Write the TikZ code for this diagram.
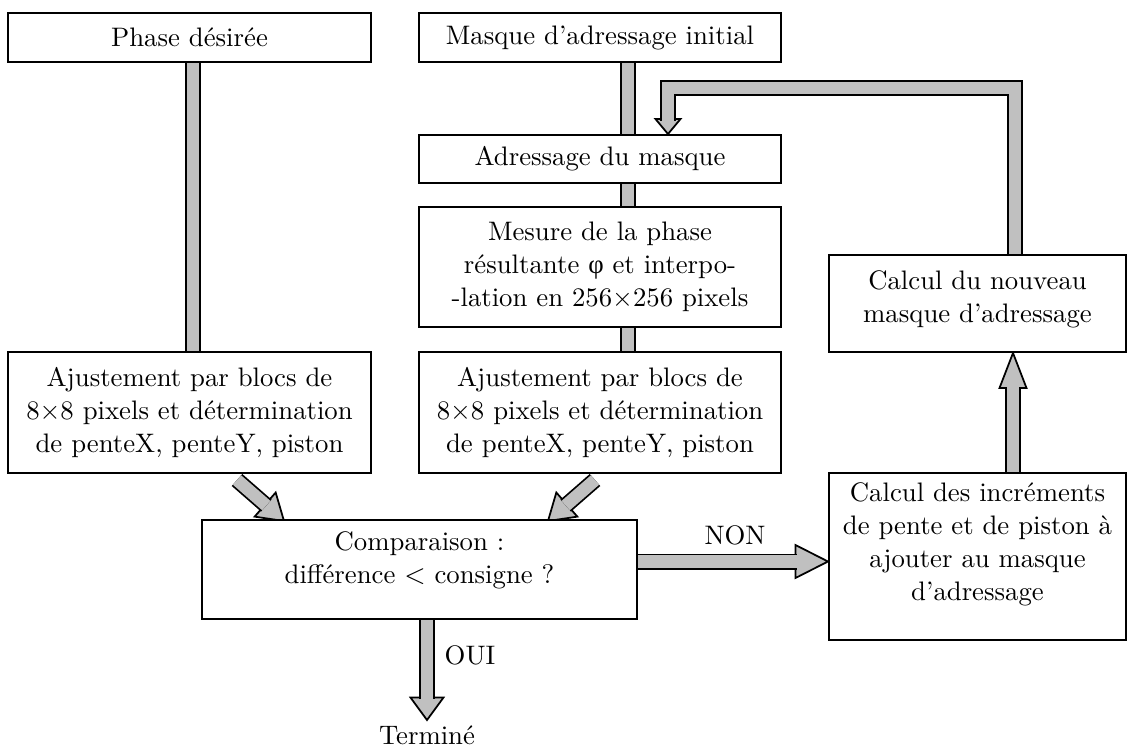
\documentclass[tikz,border=0pt]{standalone}
\usepackage{fontspec}
\newfontfamily\phifont{Liberation Serif}
\usepackage{xcolor}
\usetikzlibrary{calc,backgrounds}
\definecolor{arrowgray}{RGB}{192,192,192}
\tikzset{
  box/.style={draw=black, line width=0.8pt, fill=white, align=center, inner sep=2pt, font=\fontsize{10.7pt}{13.2pt}\selectfont},
  widebox/.style={box, minimum width=145pt},
  sidebox/.style={box, minimum width=118.8pt},
  fatshaft/.style={draw=black, line width=0.7pt, double=arrowgray, double distance=5pt, line join=miter},
  fathead/.style={draw=black, line width=0.7pt, fill=arrowgray, line join=miter},
  flowlabel/.style={inner sep=2pt, align=center, font=\fontsize{10.7pt}{13.2pt}\selectfont}
}
% fat arrow: head length, head half width, start, tip
\newcommand{\fatarrow}[4]{%
  \coordinate (fa base) at ($(#4)!#1!(#3)$);
  \coordinate (fa end) at ($(fa base)!0.6pt!(#4)$);
  \filldraw[fathead] ($(fa base)!#2!90:(#4)$) -- (#4) -- ($(fa base)!#2!-90:(#4)$) -- cycle;
  \draw[fatshaft] (#3) -- (fa end);
}
\begin{document}
\begin{tikzpicture}[x=0.4pt, y=-0.4pt]
\useasboundingbox (0,0) rectangle (1134,747);
% boxes
\node[widebox, minimum height=19.6pt] (phase) at (189.5,37.5) {Phase désirée};
\node[widebox, minimum height=19.6pt] (masque) at (600,37.5) {Masque d'adressage initial};
\node[widebox, minimum height=19.2pt] (adr) at (600,159) {Adressage du masque};
\node[widebox, minimum height=48pt] (mesure) at (600,267) {Mesure de la phase\\résultante {\phifont φ} et interpo-\\-lation en 256×256 pixels};
\node[widebox, minimum height=48.4pt] (ajustA) at (189.5,412.5) {Ajustement par blocs de\\8×8 pixels et détermination\\de penteX, penteY, piston};
\node[widebox, minimum height=48.4pt] (ajustB) at (600,412.5) {Ajustement par blocs de\\8×8 pixels et détermination\\de penteX, penteY, piston};
\node[sidebox, minimum height=38.8pt] (nouveau) at (977.5,303.5) {};
\node[flowlabel] (nouveau txt) at ($(nouveau)+(0,-4)$) {Calcul du nouveau\\masque d'adressage};
\node[box, minimum width=174pt, minimum height=39.6pt] (comp) at (419.5,569.5) {};
\node[flowlabel] (comp txt) at ($(comp)+(0,-9)$) {Comparaison :\\différence $<$ consigne ?};
\node[sidebox, minimum height=66.8pt] (incr) at (977.5,556.5) {};
\node[flowlabel] (incr txt) at ($(incr)+(0,-12)$) {Calcul des incréments\\de pente et de piston à\\ajouter au masque\\d'adressage};
\node[flowlabel] (term) at (427,735) {Terminé};
\node[flowlabel] (non) at (735,535) {NON};
\node[flowlabel] (oui) at (470,655) {OUI};
% connectors
\begin{scope}[on background layer]
\coordinate (colA) at (193,0);
\coordinate (colB) at (628,0);
\coordinate (colC) at (1013,0);
\coordinate (colO) at (427,0);
\draw[fatshaft] (phase.south -| colA) -- (ajustA.north -| colA);
\draw[fatshaft] (masque.south -| colB) -- (ajustB.north -| colB);
\coordinate (diagA s) at (237,480);
\coordinate (diagA t) at (284,521);
\fatarrow{10pt}{6.4pt}{diagA s}{diagA t}
\coordinate (diagB s) at (595,480);
\coordinate (diagB t) at (548,521);
\fatarrow{10pt}{6.4pt}{diagB s}{diagB t}
\coordinate (oui s) at ($(comp.south -| colO)+(0,-5)$);
\fatarrow{9pt}{6.6pt}{oui s}{term.north}
\coordinate (non s) at ($(comp.east)+(-5,-8)$);
\coordinate (non t) at (incr.west |- non s);
\fatarrow{13pt}{6.6pt}{non s}{non t}
\coordinate (up s) at ($(incr.north -| colC)+(0,5)$);
\coordinate (up t) at (nouveau.south -| colC);
\fatarrow{14pt}{5.4pt}{up s}{up t}
% feedback loop
\coordinate (fb s) at ($(nouveau.north -| 1015,0)+(0,5)$);
\coordinate (fb top) at (668,88);
\coordinate (fb t) at (adr.north -| fb top);
\coordinate (fb base) at ($(fb t)!6pt!(fb top)$);
\filldraw[fathead] ($(fb base)!5pt!90:(fb t)$) -- (fb t) -- ($(fb base)!5pt!-90:(fb t)$) -- cycle;
\draw[fatshaft] (fb s) |- (fb top) -- ($(fb base)!0.6pt!(fb t)$);
\end{scope}
\end{tikzpicture}
\end{document}
